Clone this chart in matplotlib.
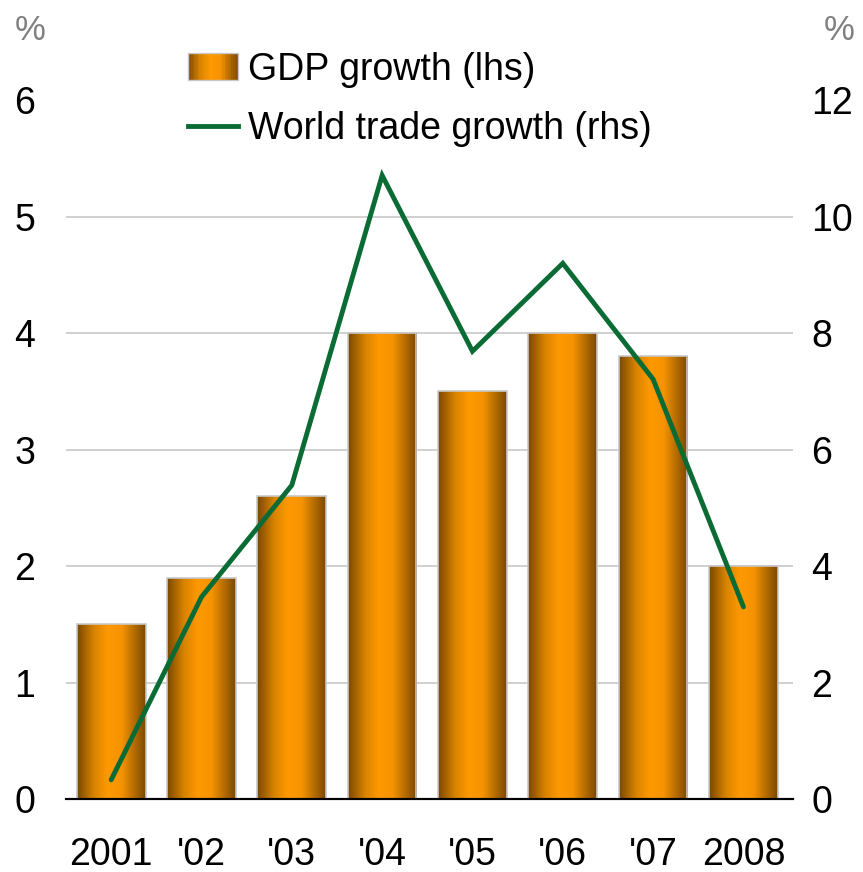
import matplotlib
matplotlib.use('Agg')
import matplotlib.pyplot as plt
import numpy as np
from matplotlib.colors import LinearSegmentedColormap
from matplotlib.lines import Line2D
from matplotlib.patches import Patch, Rectangle
from matplotlib.legend_handler import HandlerBase

plt.rcParams['font.family'] = ['Liberation Sans', 'DejaVu Sans']

# data
years = ['2001', "'02", "'03", "'04", "'05", "'06", "'07", '2008']
gdp_growth = [1.5, 1.9, 2.6, 4.0, 3.5, 4.0, 3.8, 2.0]
trade_growth = [0.33, 3.47, 5.39, 10.71, 7.69, 9.2, 7.21, 3.3]

green = '#0a6b35'
grad = LinearSegmentedColormap.from_list(
    'bar', [(0, '#7a4800'), (0.25, '#d98400'), (0.45, '#ff9900'),
            (0.65, '#f59300'), (1, '#7a4800')])


# legend swatch drawn as thin strips so it shows the same gradient
class GradHandler(HandlerBase):
    def create_artists(self, legend, orig, xd, yd, width, height, fontsize, trans):
        n = 30
        arts = []
        for i in range(n):
            r = Rectangle((xd + width * i / n, yd), width / n + 0.3, height,
                          facecolor=grad((i + 0.5) / n), edgecolor='none',
                          transform=trans)
            arts.append(r)
        arts.append(Rectangle((xd, yd), width, height, facecolor='none',
                              edgecolor='#c8c8c8', lw=1.0, transform=trans))
        return arts


fig = plt.figure(figsize=(8.63, 8.72), dpi=100)
ax = fig.add_axes([0.0765, 0.0837, 0.919 - 0.0765, 0.885 - 0.0837])
ax2 = ax.twinx()

x = np.arange(len(years))
w = 0.76
bars = ax.bar(x, gdp_growth, width=w, color='none', edgecolor='#c8c8c8',
              linewidth=1.2, zorder=3)
# gradient fill for each bar
g = np.linspace(0, 1, 256).reshape(1, -1)
for b in bars:
    x0, y0 = b.get_x(), b.get_y()
    im = ax.imshow(g, cmap=grad, aspect='auto', zorder=2,
                   extent=[x0, x0 + b.get_width(), y0, y0 + b.get_height()])
    im.set_clip_path(b)

ax.set_xlim(-0.5, 7.55)
ax.set_ylim(0, 6)
ax.set_yticks(range(0, 7))
ax.set_xticks(x)
ax.set_xticklabels(years)
for yv in range(1, 6):
    ax.axhline(yv, color='#c8c8c8', lw=1.2, zorder=1)

ax2.plot(x, trade_growth, color=green, lw=3.5, solid_capstyle='round',
         solid_joinstyle='miter', zorder=5)
ax2.set_ylim(0, 12)
ax2.set_yticks(range(0, 13, 2))

for a in (ax, ax2):
    for s in ('top', 'left', 'right'):
        a.spines[s].set_visible(False)
    a.spines['bottom'].set_color('black')
    a.spines['bottom'].set_linewidth(1.5)
    a.tick_params(length=0, labelsize=27)
ax.tick_params(axis='y', pad=22)
ax.tick_params(axis='x', pad=27)
ax2.tick_params(axis='y', pad=13)
ax2.set_zorder(ax.get_zorder() + 1)
ax2.patch.set_visible(False)

fig.text(0.017, 0.965, '%', fontsize=25, color='#808080', va='center')
fig.text(0.955, 0.965, '%', fontsize=25, color='#808080', va='center')

handles = [Patch(label='GDP growth (lhs)'),
           Line2D([], [], color=green, lw=3.5, label='World trade growth (rhs)')]
fig.legend(handles=handles, loc='upper left', bbox_to_anchor=(0.2, 0.958),
           frameon=False, fontsize=27, handlelength=1.35, handletextpad=0.25,
           labelspacing=0.62, borderaxespad=0,
           handler_map={Patch: GradHandler()})

plt.savefig('out.png', dpi=100)
